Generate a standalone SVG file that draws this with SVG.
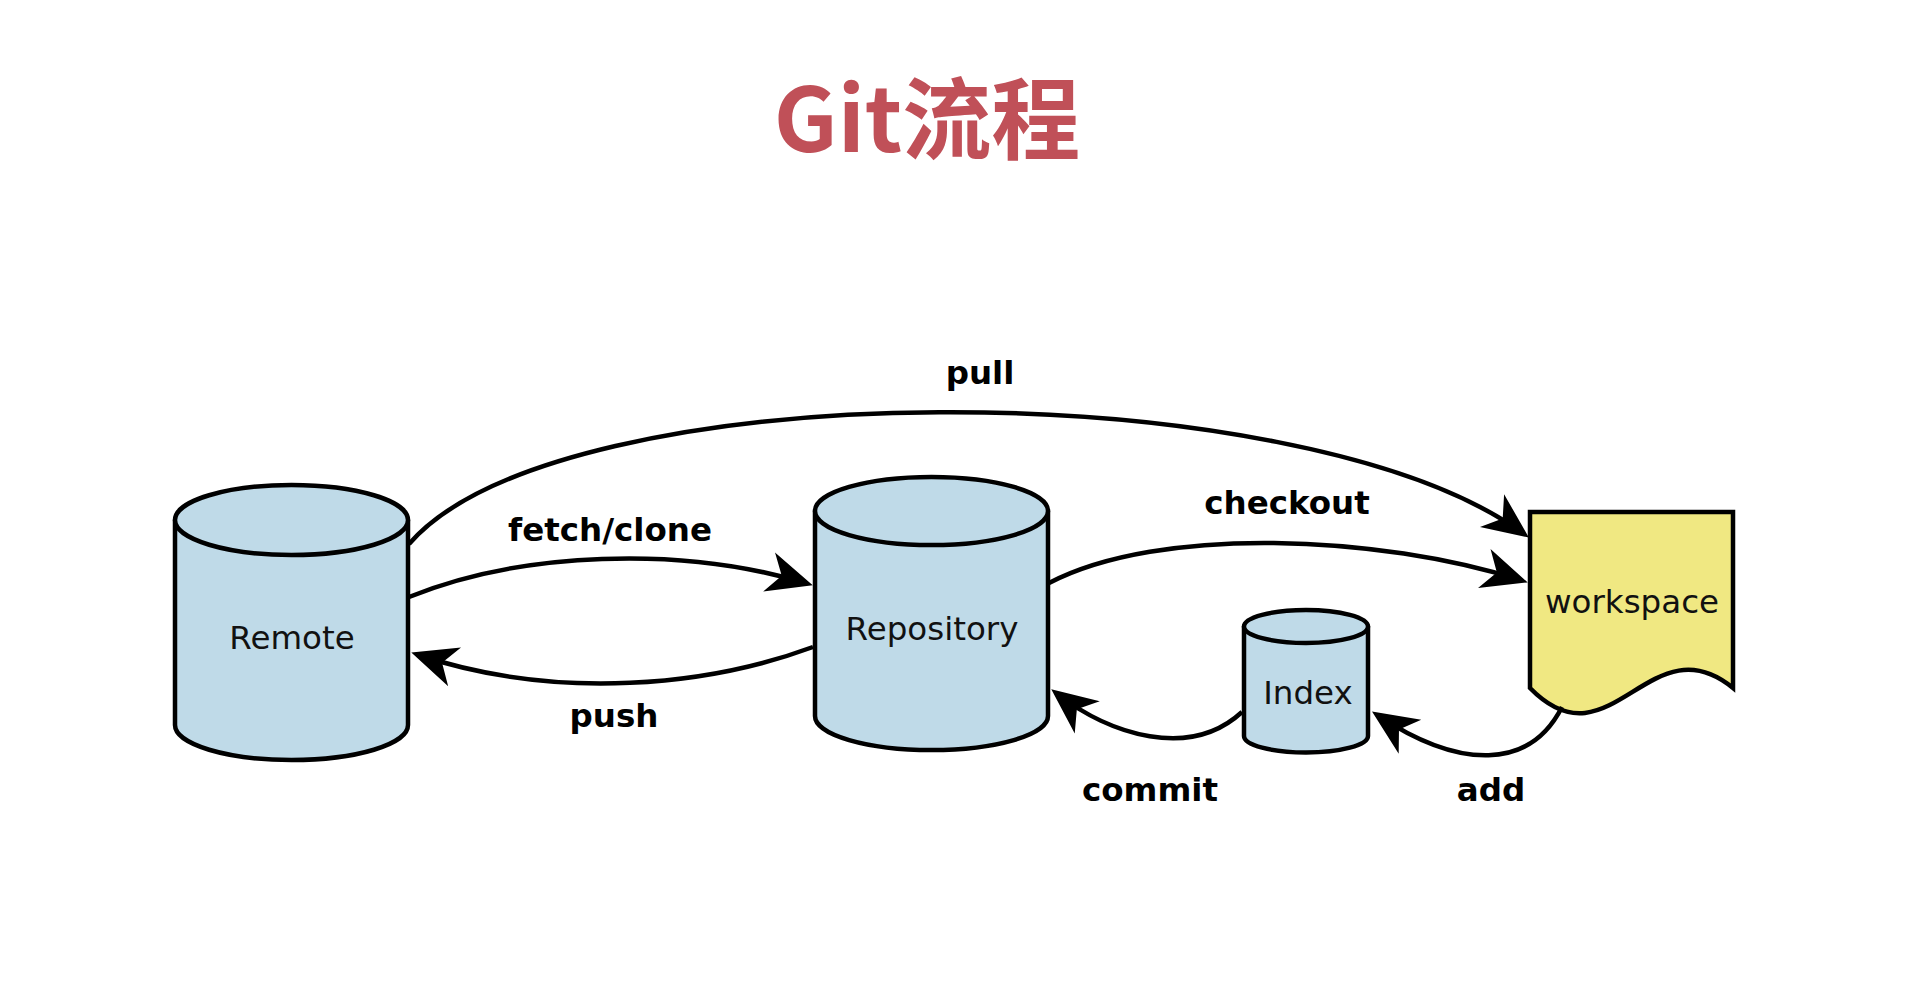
<svg xmlns="http://www.w3.org/2000/svg" width="1924" height="1008" viewBox="0 0 1924 1008">
<style>
.cyl{fill:#BFDAE8;stroke:#000;stroke-width:4.5;stroke-linejoin:round}
.doc{fill:#F0E882;stroke:#000;stroke-width:4.5;stroke-linejoin:miter}
.nt{font-family:"DejaVu Sans",sans-serif;font-size:32.5px;fill:#111;text-anchor:middle}
.lb{font-family:"DejaVu Sans",sans-serif;font-weight:bold;font-size:32.5px;fill:#000;text-anchor:middle}
.ln{fill:none;stroke:#000;stroke-width:4.5;marker-end:url(#arr)}
</style>
<defs>
<marker id="arr" markerUnits="userSpaceOnUse" orient="auto" refX="0" refY="0" markerWidth="60" markerHeight="60" viewBox="-40 -20 50 40" overflow="visible">
<path d="M5,0 L-33,-17 L-22,0 L-33,17 Z" fill="#000"/>
</marker>
</defs>
<rect width="1924" height="1008" fill="#fff"/>
<text x="927" y="152" font-family="'Noto Sans CJK SC',sans-serif" font-weight="bold" font-size="89" fill="#C05058" text-anchor="middle">Git流程</text>

<g id="remote">
<path class="cyl" d="M175,520 V725 A116.5,35 0 0 0 408,725 V520 Z"/>
<ellipse class="cyl" cx="291.5" cy="520" rx="116.5" ry="35"/>
<text class="nt" x="292" y="649">Remote</text>
</g>
<g id="repository">
<path class="cyl" d="M815,511 V716 A116.5,34 0 0 0 1048,716 V511 Z"/>
<ellipse class="cyl" cx="931.5" cy="511" rx="116.5" ry="34"/>
<text class="nt" x="932" y="640">Repository</text>
</g>
<g id="index">
<path class="cyl" d="M1244,626.5 V736 A62,16.5 0 0 0 1368,736 V626.5 Z"/>
<ellipse class="cyl" cx="1306" cy="626.5" rx="62" ry="16.5"/>
<text class="nt" x="1308" y="704">Index</text>
</g>
<g id="workspace">
<path class="doc" d="M1530,512 H1733 V688 C1650,620 1610,770 1530,688 Z"/>
<text class="nt" x="1632" y="613">workspace</text>
</g>

<g id="connectors">
<path class="ln" d="M409,597 C520,552 680,545 807,583.5"/>
<path class="ln" d="M813,647 C710,685 560,702 417,654.5"/>
<path class="ln" d="M409,544 C560,370 1300,370 1524,534"/>
<path class="ln" d="M1049,583 C1160,525 1380,535 1522,580.6"/>
<path class="ln" d="M1242,712 C1190,760 1110,735 1056,693"/>
<path class="ln" d="M1562,707 C1530,770 1460,770 1377,714.8"/>
</g>
<g id="labels">
<text class="lb" x="980" y="384">pull</text>
<text class="lb" x="610" y="541">fetch/clone</text>
<text class="lb" x="1287" y="514">checkout</text>
<text class="lb" x="614" y="727">push</text>
<text class="lb" x="1150" y="801">commit</text>
<text class="lb" x="1491" y="801">add</text>
</g>
</svg>
